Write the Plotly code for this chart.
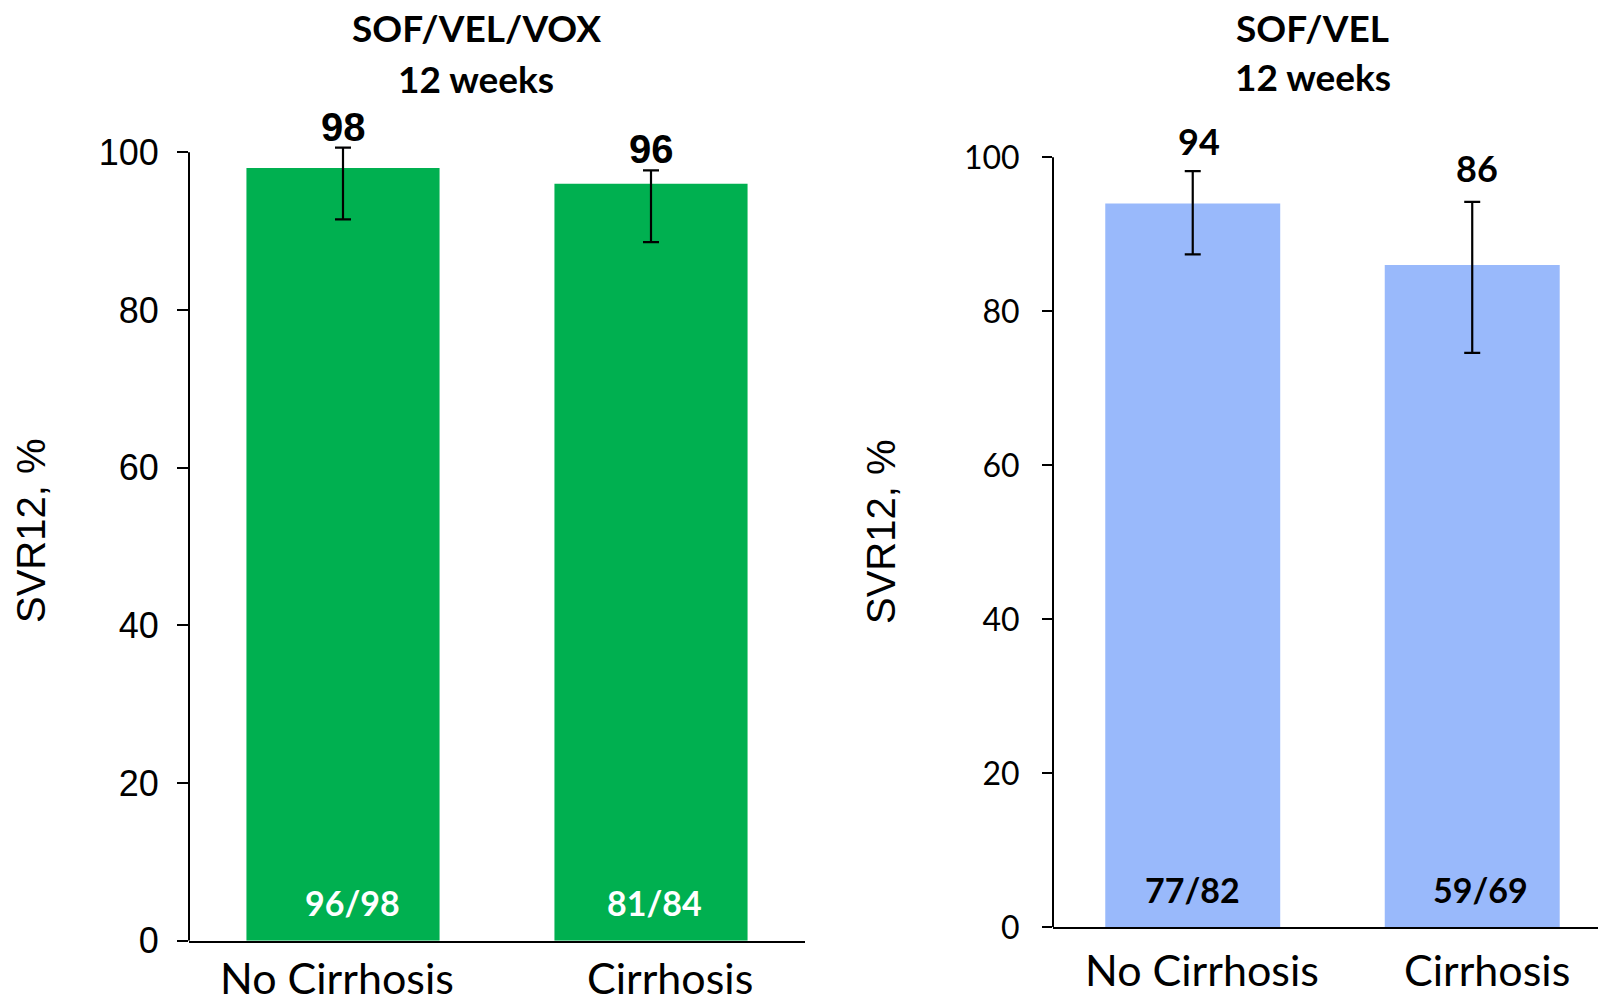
import plotly.graph_objects as go

# --- data -------------------------------------------------------------
categories = ["No Cirrhosis", "Cirrhosis"]

vox_svr = [98, 96]
vox_ci_low = [91.5, 88.6]
vox_ci_high = [100.6, 97.7]
vox_counts = ["96/98", "81/84"]

vel_svr = [94, 86]
vel_ci_low = [87.4, 74.6]
vel_ci_high = [98.2, 94.2]
vel_counts = ["77/82", "59/69"]

panel_titles = [("SOF/VEL/VOX", "12 weeks"), ("SOF/VEL", "12 weeks")]
y_ticks = [0, 20, 40, 60, 80, 100]
y_title = "SVR12, %"

# --- styling ----------------------------------------------------------
W, H = 1598, 995
GREEN = "#00B050"
BLUE = "#99B9FB"
ARIAL = "Liberation Sans, Arial, sans-serif"
CALIBRI = "Lato, Carlito, Calibri, sans-serif"
Y_MAX = 102  # headroom so the upper CI cap above 100 stays visible


def px_x(v):
    return v / W


def px_y(v):
    return 1 - v / H


def y_domain(px_zero, px_hundred):
    top = px_zero - (px_zero - px_hundred) * Y_MAX / 100.0
    return [px_y(px_zero), px_y(top)]


fig = go.Figure()


def add_panel(vals, lo, hi, color, xa, ya, width):
    fig.add_trace(go.Bar(
        x=categories, y=vals, width=width,
        marker=dict(color=color, line=dict(width=0)),
        error_y=dict(
            type="data", symmetric=False,
            array=[h - v for h, v in zip(hi, vals)],
            arrayminus=[v - l for l, v in zip(lo, vals)],
            color="black", thickness=2.2, width=8,
        ),
        cliponaxis=False,
        xaxis=xa, yaxis=ya, showlegend=False, hoverinfo="skip",
    ))


add_panel(vox_svr, vox_ci_low, vox_ci_high, GREEN, "x", "y", 0.627)
add_panel(vel_svr, vel_ci_low, vel_ci_high, BLUE, "x2", "y2", 0.626)

x_common = dict(showgrid=False, zeroline=False, showline=True,
                linecolor="black", linewidth=2, automargin=False,
                type="category", showticklabels=False, ticks="")
y_common = dict(showgrid=False, zeroline=False, showline=False,
                automargin=False, range=[0, Y_MAX], tickvals=y_ticks,
                ticks="outside", tickwidth=2, tickcolor="black")

fig.update_layout(
    template="none",
    width=W, height=H, autosize=False,
    margin=dict(l=0, r=0, t=0, b=0, pad=0),
    paper_bgcolor="white", plot_bgcolor="white",
    bargap=0.37,
    xaxis=dict(domain=[px_x(189), px_x(805)], range=[-0.5, 1.5],
               anchor="y", **x_common),
    yaxis=dict(domain=y_domain(940.8, 152.3), ticklen=11,
               ticklabelstandoff=11,
               tickfont=dict(family=ARIAL, size=36, color="black"),
               anchor="x", **y_common),
    xaxis2=dict(domain=[px_x(1053), 1.0], range=[-0.5, 1.45],
                anchor="y2", **x_common),
    yaxis2=dict(domain=y_domain(927.3, 157.3), ticklen=10,
                ticklabelstandoff=16,
                tickfont=dict(family=CALIBRI, size=32, color="black"),
                anchor="x2", **y_common),
)

# vertical axis lines, running from 0 up to 100 only
for xr, yr in (("x", "y"), ("x2", "y2")):
    fig.add_shape(type="line", xref=xr + " domain", yref=yr,
                  x0=0, x1=0, y0=0, y1=100,
                  line=dict(color="black", width=2))

ann = []

panels = [
    dict(xr="x", yr="y", vals=vox_svr, counts=vox_counts,
         vfont=dict(family=ARIAL, size=40, color="black"),
         vshift=[41, 35], vx=[0, 0],
         cfont=dict(family=CALIBRI, size=34, color="white"),
         cshift=38, cx=[9, 3],
         lshift=-37, lx=[-6, 19]),
    dict(xr="x2", yr="y2", vals=vel_svr, counts=vel_counts,
         vfont=dict(family=CALIBRI, size=36, color="black"),
         vshift=[62, 97], vx=[6, 5],
         cfont=dict(family=CALIBRI, size=34, color="black"),
         cshift=38, cx=[0, 8],
         lshift=-42, lx=[9, 15]),
]

for p in panels:
    for i, cat in enumerate(categories):
        # percentage above the bar
        ann.append(dict(x=cat, y=p["vals"][i], xref=p["xr"], yref=p["yr"],
                        text="<b>%d</b>" % p["vals"][i], showarrow=False,
                        yanchor="middle", yshift=p["vshift"][i],
                        xshift=p["vx"][i], font=p["vfont"]))
        # responders / total inside the bar
        ann.append(dict(x=cat, y=0, xref=p["xr"], yref=p["yr"],
                        text="<b>%s</b>" % p["counts"][i], showarrow=False,
                        yanchor="middle", yshift=p["cshift"],
                        xshift=p["cx"][i], font=p["cfont"]))
        # category label under the axis
        ann.append(dict(x=cat, y=0, xref=p["xr"], yref=p["yr"],
                        text=cat, showarrow=False,
                        yanchor="middle", yshift=p["lshift"],
                        xshift=p["lx"][i],
                        font=dict(family=CALIBRI, size=43, color="black")))

# panel titles
title_pos = [(476, 28, 79), (1312.5, 27.5, 76.5)]
for (l1, l2), (cx, y1, y2) in zip(panel_titles, title_pos):
    for txt, yy in ((l1, y1), (l2, y2)):
        ann.append(dict(x=px_x(cx), y=px_y(yy), xref="paper", yref="paper",
                        text="<b>%s</b>" % txt, showarrow=False,
                        xanchor="center", yanchor="middle",
                        font=dict(family=CALIBRI, size=37, color="black")))

# y-axis titles
for cx in (31, 881):
    ann.append(dict(x=px_x(cx), y=px_y(531), xref="paper", yref="paper",
                    text=y_title, textangle=-90, showarrow=False,
                    xanchor="center", yanchor="middle",
                    font=dict(family=ARIAL, size=40, color="black")))

fig.update_layout(annotations=ann)

fig.write_html("out.html")
